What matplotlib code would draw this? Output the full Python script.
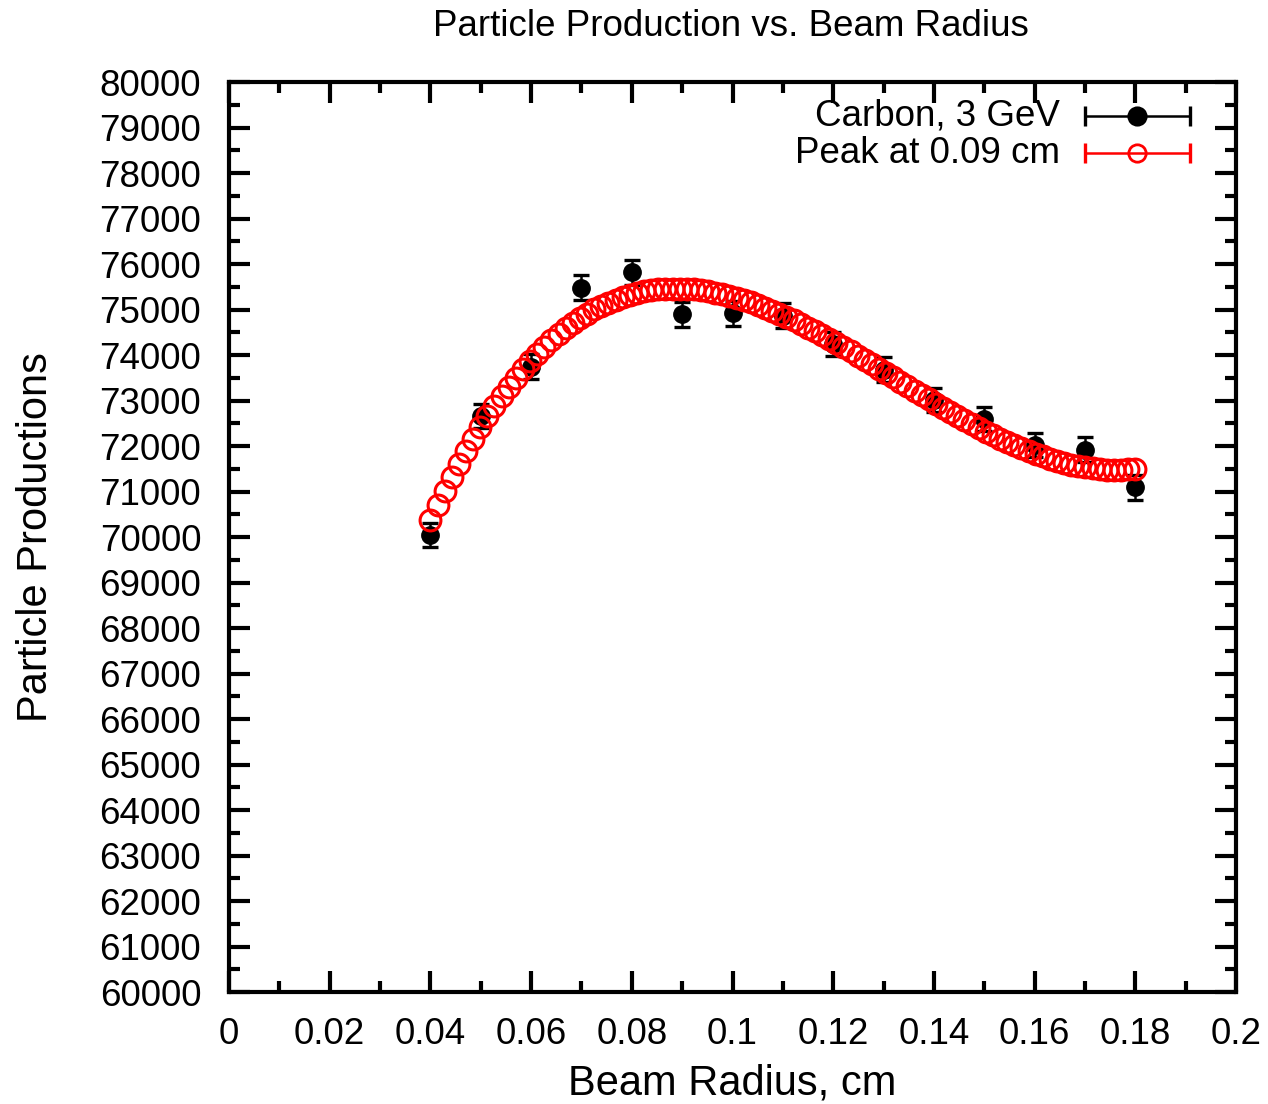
import numpy as np
import matplotlib
matplotlib.use('Agg')
import matplotlib.pyplot as plt
from matplotlib.ticker import MultipleLocator, FuncFormatter

plt.rcParams['font.family'] = ['Liberation Sans', 'DejaVu Sans']

# measured points, carbon 3 GeV
radius = [0.04, 0.05, 0.06, 0.07, 0.08, 0.09, 0.10, 0.11, 0.12, 0.13, 0.14, 0.15, 0.16, 0.17, 0.18]
production = [70040, 72660, 73740, 75480, 75820, 74900, 74920, 74860, 74240, 73680, 73010, 72590,
              72020, 71920, 71090]
production_err = [265, 270, 272, 275, 275, 274, 274, 274, 272, 271, 270, 269, 268, 268, 267]

fit_y = [70374, 70703, 71019, 71321, 71612, 71890, 72155, 72409, 72651, 72881,
         73100, 73308, 73505, 73691, 73866, 74031, 74186, 74331, 74466, 74591,
         74707, 74814, 74912, 75002, 75082, 75154, 75219, 75275, 75323, 75364,
         75397, 75424, 75443, 75456, 75462, 75462, 75455, 75443, 75425, 75401,
         75372, 75338, 75299, 75256, 75207, 75155, 75098, 75037, 74973, 74905,
         74834, 74760, 74683, 74603, 74521, 74436, 74349, 74260, 74170, 74078,
         73985, 73891, 73796, 73700, 73604, 73507, 73410, 73314, 73218, 73122,
         73027, 72933, 72840, 72749, 72659, 72570, 72484, 72400, 72318, 72239,
         72162, 72089, 72018, 71951, 71888, 71828, 71772, 71721, 71673, 71631,
         71593, 71560, 71532, 71510, 71493, 71482, 71477, 71478, 71485, 71499]
fit_x = np.linspace(0.04, 0.18, len(fit_y))

labels = ['Carbon, 3 GeV', 'Peak at 0.09 cm']

fig = plt.figure(figsize=(12.68, 11.04), dpi=100)
ax = fig.add_axes([0.1806, 0.1014, 0.7942, 0.8243])

ax.errorbar(radius, production, yerr=production_err, fmt='o', color='black',
            markersize=12.5, elinewidth=1.8, capsize=6, capthick=2.4, zorder=3)
ax.plot(fit_x, fit_y, 'o', markerfacecolor='none', markeredgecolor='red',
        markeredgewidth=2.2, markersize=15, zorder=4)

ax.set_xlim(0, 0.2)
ax.set_ylim(60000, 80000)
ax.xaxis.set_major_locator(MultipleLocator(0.02))
ax.xaxis.set_minor_locator(MultipleLocator(0.01))
ax.yaxis.set_major_locator(MultipleLocator(1000))
ax.yaxis.set_minor_locator(MultipleLocator(500))
ax.xaxis.set_major_formatter(FuncFormatter(lambda v, p: '%g' % round(v, 4)))
ax.yaxis.set_major_formatter(FuncFormatter(lambda v, p: '%d' % v))

ax.tick_params(which='both', direction='in', top=True, right=True, width=3, labelsize=26.5)
ax.tick_params(which='major', length=15)
ax.tick_params(which='minor', length=8)
ax.tick_params(axis='y', pad=20)
ax.tick_params(axis='x', pad=18)
for s in ax.spines.values():
    s.set_linewidth(3)

ax.set_xlabel('Beam Radius, cm', fontsize=30, labelpad=8)
ax.set_ylabel('Particle Productions', fontsize=30, labelpad=31)
fig.text(0.5765, 0.976, 'Particle Production vs. Beam Radius', fontsize=26.5,
         ha='center', va='center')

# gnuplot style key
rows = [0.9626, 0.9220]
colors = ['black', 'red']
faces = ['black', 'none']
for yy, lab, col, fc in zip(rows, labels, colors, faces):
    ax.text(0.8252, yy, lab, transform=ax.transAxes, ha='right', va='center', fontsize=26.5)
    ax.plot([0.850, 0.954], [yy, yy], color=col, lw=1.8, transform=ax.transAxes)
    ax.plot([0.850, 0.954], [yy, yy], '|', color=col, markersize=14, markeredgewidth=2.4,
            transform=ax.transAxes)
    ax.plot([0.902], [yy], 'o', markerfacecolor=fc, markeredgecolor=col,
            markeredgewidth=2.0, markersize=12.5, transform=ax.transAxes)

fig.savefig('out.png', dpi=100)
